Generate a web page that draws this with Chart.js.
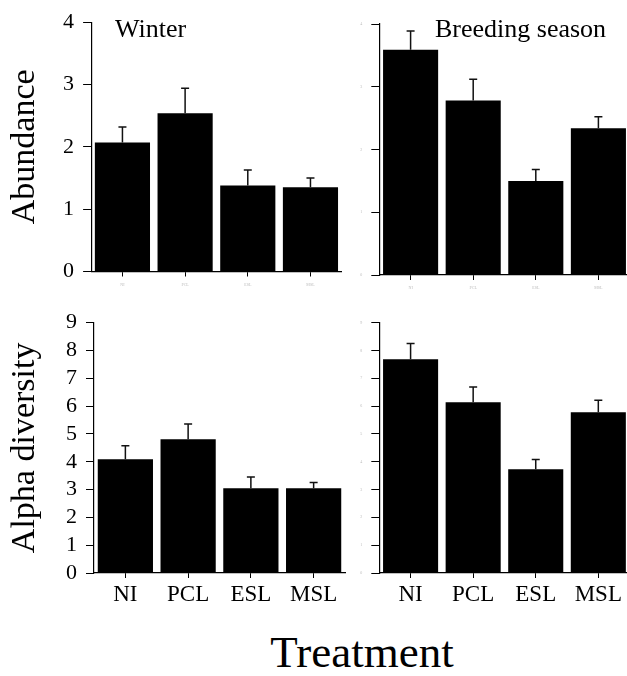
<!DOCTYPE html>
<html>
<head>
<meta charset="utf-8">
<script src="https://cdn.jsdelivr.net/npm/chart.js@4.4.1/dist/chart.umd.min.js"></script>
<style>
  html, body { margin: 0; padding: 0; background: #fff; overflow: hidden; }
  #wrap { position: relative; width: 627px; height: 676px; overflow: hidden; background: #fff; }
  canvas { position: absolute; }
  .lbl { position: absolute; font-family: 'Liberation Serif', 'Times New Roman', serif; color: #000; line-height: 1; white-space: nowrap; }
</style>
</head>
<body>
<div id="wrap">
  <canvas id="tl" width="350" height="300" style="left:0;top:0;width:350px;height:300px"></canvas>
  <canvas id="tr" width="300" height="300" style="left:340px;top:0;width:300px;height:300px"></canvas>
  <canvas id="bl" width="350" height="320" style="left:0;top:300px;width:350px;height:320px"></canvas>
  <canvas id="br" width="300" height="320" style="left:340px;top:300px;width:300px;height:320px"></canvas>
  <div class="lbl" style="left:115px;top:16px;font-size:26px">Winter</div>
  <div class="lbl" style="left:435px;top:16px;font-size:26px">Breeding season</div>
  <div class="lbl" style="left:362px;top:630px;font-size:45px;transform:translateX(-50%)">Treatment</div>
</div>
<script>
// ---- data ----
const categories = ['NI', 'PCL', 'ESL', 'MSL'];
const abundanceTicks = [0, 1, 2, 3, 4];
const alphaTicks = [0, 1, 2, 3, 4, 5, 6, 7, 8, 9];

const winterAbundance = [2.07, 2.54, 1.38, 1.35];
const winterAbundanceErr = [0.25, 0.40, 0.25, 0.15];
const breedingAbundance = [3.59, 2.78, 1.50, 2.34];
const breedingAbundanceErr = [0.30, 0.34, 0.18, 0.18];

const winterAlpha = [4.09, 4.81, 3.05, 3.05];
const winterAlphaErr = [0.49, 0.55, 0.40, 0.20];
const breedingAlpha = [7.69, 6.14, 3.73, 5.78];
const breedingAlphaErr = [0.56, 0.55, 0.35, 0.43];

Chart.defaults.font.family = "'Liberation Serif', 'Times New Roman', serif";
Chart.defaults.color = '#000';

const errorBars = {
  id: 'errorBars',
  afterDatasetsDraw(chart, args, opts) {
    const errs = opts.errors;
    if (!errs) return;
    const meta = chart.getDatasetMeta(0);
    const ys = chart.scales.y;
    const ctx = chart.ctx;
    ctx.save();
    ctx.strokeStyle = '#111';
    ctx.lineWidth = 1.5;
    meta.data.forEach((bar, i) => {
      const v = chart.data.datasets[0].data[i];
      const x = bar.x;
      const y0 = ys.getPixelForValue(v);
      const y1 = ys.getPixelForValue(v + errs[i]);
      ctx.beginPath();
      ctx.moveTo(x, y0);
      ctx.lineTo(x, y1);
      ctx.moveTo(x - 4, y1);
      ctx.lineTo(x + 4, y1);
      ctx.stroke();
    });
    ctx.restore();
  }
};

function makePanel(id, values, errs, cfg) {
  const ticksArr = cfg.ticks;
  return new Chart(document.getElementById(id), {
    type: 'bar',
    data: {
      labels: categories,
      datasets: [{
        data: values,
        backgroundColor: '#000',
        borderWidth: 0,
        barPercentage: 0.88,
        categoryPercentage: 1.0
      }]
    },
    plugins: [errorBars],
    options: {
      responsive: false,
      animation: false,
      events: [],
      layout: { padding: { top: cfg.padTop, right: cfg.padRight, left: 0, bottom: 0 } },
      plugins: {
        legend: { display: false },
        tooltip: { enabled: false },
        errorBars: { errors: errs }
      },
      scales: {
        x: {
          grid: { display: true, drawOnChartArea: false, offset: false, drawTicks: true, tickLength: 5, color: '#000', lineWidth: 1 },
          border: { display: true, color: '#000', width: 1.2 },
          ticks: cfg.bigX
            ? { font: { size: 23 }, padding: 3, color: '#000', autoSkip: false, maxRotation: 0 }
            : { font: { size: 4 }, padding: 6, color: '#bbb', autoSkip: false, maxRotation: 0 },
          afterFit: (s) => { s.height = cfg.xHeight; }
        },
        y: {
          min: ticksArr[0],
          max: ticksArr[ticksArr.length - 1],
          afterBuildTicks: (s) => { s.ticks = ticksArr.map(v => ({ value: v })); },
          grid: { display: true, drawOnChartArea: false, drawTicks: true, tickLength: 8, color: '#000', lineWidth: 1 },
          border: { display: true, color: '#000', width: 1.2 },
          ticks: cfg.bigY
            ? { font: { size: 22 }, padding: 9, color: '#000', autoSkip: false }
            : { font: { size: 4 }, padding: 9, color: '#bbb', autoSkip: false },
          title: cfg.yTitle
            ? { display: true, text: cfg.yTitle, font: { size: 34 }, color: '#000', padding: { top: 5, bottom: 0 } }
            : { display: false },
          afterFit: (s) => { s.width = cfg.yWidth; }
        }
      }
    }
  });
}

makePanel('tl', winterAbundance, winterAbundanceErr, {
  ticks: abundanceTicks, padTop: 20.7, padRight: 8.2, xHeight: 28.5, yWidth: 91.1,
  bigX: false, bigY: true, yTitle: 'Abundance'
});
makePanel('tr', breedingAbundance, breedingAbundanceErr, {
  ticks: abundanceTicks, padTop: 24, padRight: 10.3, xHeight: 25, yWidth: 39.3,
  bigX: false, bigY: false, yTitle: null
});
makePanel('bl', winterAlpha, winterAlphaErr, {
  ticks: alphaTicks, padTop: 22.7, padRight: 5, xHeight: 47, yWidth: 94,
  bigX: true, bigY: true, yTitle: 'Alpha diversity'
});
makePanel('br', breedingAlpha, breedingAlphaErr, {
  ticks: alphaTicks, padTop: 22.7, padRight: 10.4, xHeight: 47, yWidth: 39.3,
  bigX: true, bigY: false, yTitle: null
});
</script>
</body>
</html>
